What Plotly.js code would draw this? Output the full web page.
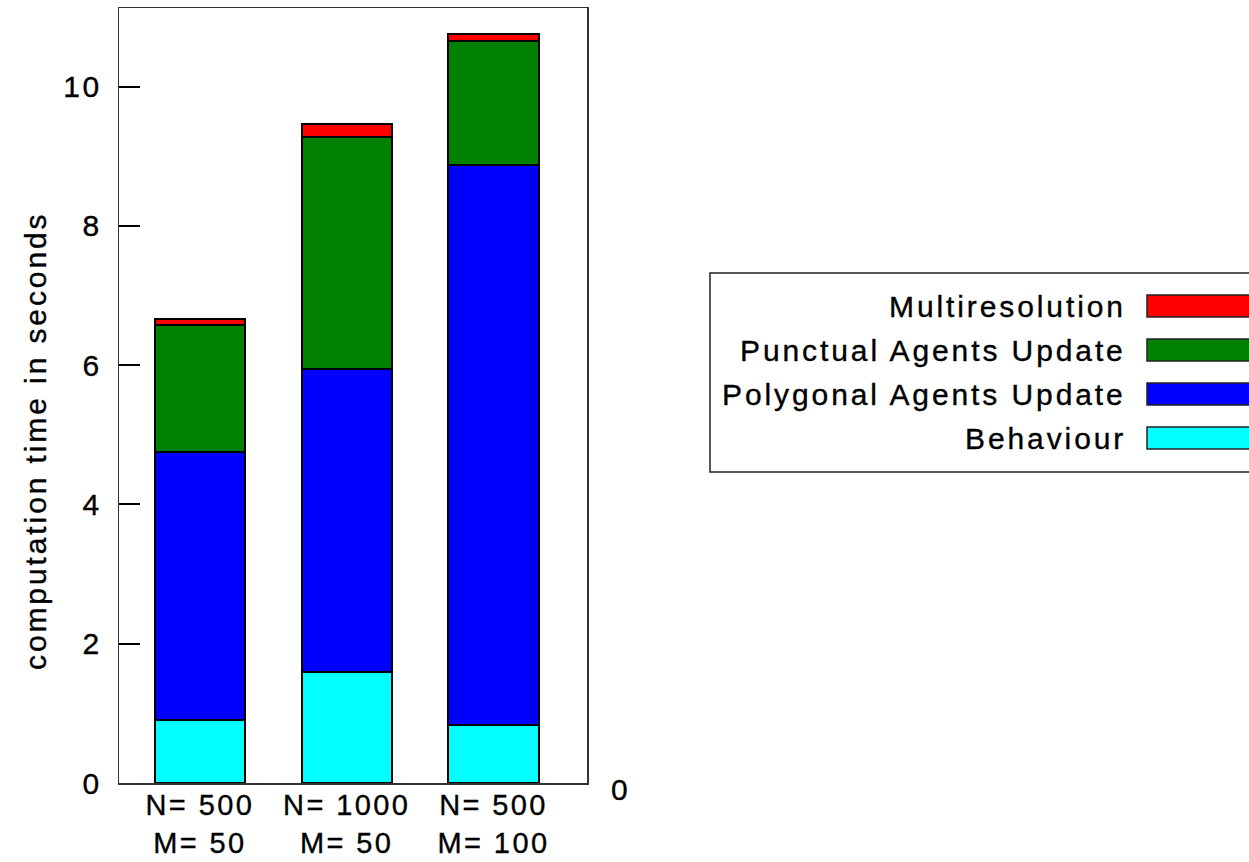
<!DOCTYPE html>
<html>
<head>
<meta charset="utf-8">
<script src="https://cdn.plot.ly/plotly-3.0.1.min.js"></script>
<style>
  body { margin: 0; background: #fff; }
  #chart { width: 1249px; height: 862px; }
  svg text { letter-spacing: 2.4px; }
  svg text.annotation-text { letter-spacing: 2.9px; }
  #chart .main-svg text { stroke: #000; stroke-width: 0.35px; }
</style>
</head>
<body>
<div id="chart"></div>
<script>
// ---- data ----
const categories = ['N= 500<br>M= 50', 'N= 1000<br>M= 50', 'N= 500<br>M= 100'];
const seriesNames = ['Behaviour', 'Polygonal Agents Update', 'Punctual Agents Update', 'Multiresolution'];
const behaviour = [0.91, 1.60, 0.83];
const polygonal = [3.84, 4.34, 8.05];
const punctual = [1.83, 3.34, 1.77];
const multiresolution = [0.08, 0.18, 0.11];
const seriesColors = ['#00ffff', '#0000ff', '#008000', '#ff0000'];
const yTicks = [0, 2, 4, 6, 8, 10];
const yTitle = 'computation time in seconds';
const extraLabel = '0';

const seriesValues = [behaviour, polygonal, punctual, multiresolution];

const FONT = 'Liberation Sans, Arial, sans-serif';
const FS = 30;
const W = 1249, H = 862;
const M = {l: 119, r: 662, t: 8, b: 79};
const PW = W - M.l - M.r, PH = H - M.t - M.b;
const px = x => (x - M.l) / PW;
const py = y => (H - M.b - y) / PH;

const traces = seriesValues.map((vals, i) => ({
  type: 'bar',
  name: seriesNames[i],
  x: categories,
  y: vals,
  marker: {color: seriesColors[i], line: {color: '#000', width: 2}},
  showlegend: false,
  hoverinfo: 'skip'
}));

// custom legend (text right-aligned, swatch on the right; top entry = last series)
const shapes = [{
  type: 'rect', xref: 'paper', yref: 'paper',
  x0: px(710), x1: px(1262), y0: py(472), y1: py(273),
  line: {color: '#222', width: 1.5}, fillcolor: 'rgba(0,0,0,0)'
}];
const annotations = [];
const rowCenters = [306, 350, 394, 438];
for (let r = 0; r < 4; r++) {
  const si = 3 - r;
  const cy = rowCenters[r];
  shapes.push({
    type: 'rect', xref: 'paper', yref: 'paper',
    x0: px(1147), x1: px(1262), y0: py(cy + 11), y1: py(cy - 11),
    line: {color: '#222', width: 1.5}, fillcolor: seriesColors[si]
  });
  annotations.push({
    xref: 'paper', yref: 'paper', x: px(1128), y: py(cy),
    xanchor: 'right', yanchor: 'middle', showarrow: false,
    text: seriesNames[si], font: {family: FONT, size: FS, color: '#000'}
  });
}
annotations.push({
  xref: 'paper', yref: 'paper', x: px(621), y: py(789),
  xanchor: 'center', yanchor: 'middle', showarrow: false,
  text: extraLabel, font: {family: FONT, size: FS, color: '#000'}
});
annotations.push({
  xref: 'paper', yref: 'paper', x: px(35), y: py(441),
  xanchor: 'center', yanchor: 'middle', showarrow: false, textangle: -90,
  text: yTitle, font: {family: FONT, size: FS, color: '#000'}
});

const layout = {
  width: W, height: H,
  margin: M,
  paper_bgcolor: '#fff', plot_bgcolor: '#fff',
  barmode: 'stack',
  bargap: 0.386,
  font: {family: FONT, size: FS, color: '#000'},
  xaxis: {
    type: 'category',
    range: [-0.551, 2.637],
    showline: true, mirror: true, linecolor: '#333', linewidth: 1.5,
    ticks: '', showgrid: false, zeroline: false,
    ticklabelstandoff: -4,
    tickfont: {family: FONT, size: 29, color: '#000'}
  },
  yaxis: {
    range: [0, 11.13],
    tickvals: yTicks,
    ticks: 'inside', ticklen: 21, tickwidth: 2, tickcolor: '#000',
    showline: true, mirror: true, linecolor: '#333', linewidth: 1.5,
    showgrid: false, zeroline: false,
    ticklabelstandoff: 10,
    tickfont: {family: FONT, size: FS, color: '#000'}
  },
  shapes: shapes,
  annotations: annotations
};

Plotly.newPlot('chart', traces, layout, {staticPlot: true, displayModeBar: false});
</script>
</body>
</html>
